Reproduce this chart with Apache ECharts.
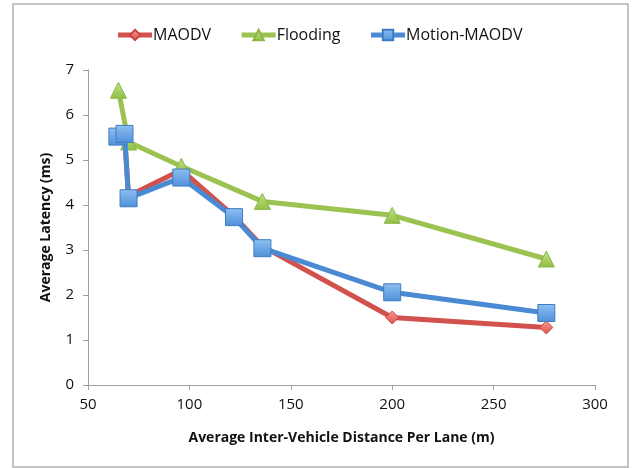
<!DOCTYPE html>
<html>
<head>
<meta charset="utf-8">
<script src="https://cdn.jsdelivr.net/npm/echarts@6/dist/echarts.min.js"></script>
<style>
html,body{margin:0;padding:0;background:#fff;}
#chart{width:638px;height:468px;}
</style>
</head>
<body>
<div id="chart"></div>
<script>
const seriesNames = ['MAODV', 'Flooding', 'Motion-MAODV'];
const maodvX = [65, 68, 70, 96, 122, 136, 200, 276];
const maodvY = [5.5, 5.57, 4.2, 4.78, 3.75, 3.08, 1.5, 1.28];
const floodingX = [65, 70, 96, 136, 200, 276];
const floodingY = [6.55, 5.4, 4.86, 4.08, 3.77, 2.8];
const motionX = [64.5, 68, 70, 96, 122, 136, 200, 276];
const motionY = [5.52, 5.58, 4.15, 4.61, 3.73, 3.04, 2.06, 1.6];
const xTicks = [50, 100, 150, 200, 250, 300];
const yTicks = [0, 1, 2, 3, 4, 5, 6, 7];

const pair = (xs, ys) => xs.map((x, i) => [x, ys[i]]);
const font = '"Open Sans", "Liberation Sans", sans-serif';

const chart = echarts.init(document.getElementById('chart'), null, {renderer: 'canvas'});
chart.setOption({
  animation: false,
  backgroundColor: '#ffffff',
  graphic: [{
    type: 'rect',
    shape: {x: 13, y: 4, width: 615, height: 463},
    style: {fill: 'none', stroke: '#b0b0b0', lineWidth: 1.5},
    silent: true, z: -1
  }],
  legend: {
    top: 22,
    left: 'center',
    itemWidth: 34,
    itemHeight: 13,
    itemGap: 28,
    lineStyle: {width: 5},
    textStyle: {fontFamily: font, fontSize: 16, color: '#111', padding: [0, 0, 0, -4]},
    data: seriesNames
  },
  grid: {left: 88, right: 43, top: 70, bottom: 83},
  xAxis: {
    type: 'value',
    min: xTicks[0],
    max: xTicks[xTicks.length - 1],
    interval: 50,
    name: 'Average Inter-Vehicle Distance Per Lane (m)',
    nameLocation: 'middle',
    nameGap: 46,
    nameTextStyle: {fontFamily: font, fontSize: 14, fontWeight: 'bold', color: '#111'},
    axisLine: {lineStyle: {color: '#a0a0a0', width: 1}},
    axisTick: {show: true, inside: false, length: 5, lineStyle: {color: '#a0a0a0'}},
    axisLabel: {fontFamily: font, fontSize: 15, color: '#111', margin: 12},
    splitLine: {show: false}
  },
  yAxis: {
    type: 'value',
    min: yTicks[0],
    max: yTicks[yTicks.length - 1],
    interval: 1,
    name: 'Average Latency (ms)',
    nameLocation: 'middle',
    nameGap: 35,
    nameRotate: 90,
    nameTextStyle: {fontFamily: font, fontSize: 14, fontWeight: 'bold', color: '#111'},
    axisLine: {show: true, lineStyle: {color: '#a0a0a0', width: 1}},
    axisTick: {show: true, inside: false, length: 5, lineStyle: {color: '#a0a0a0'}},
    axisLabel: {fontFamily: font, fontSize: 15, color: '#111', margin: 14},
    splitLine: {show: false}
  },
  series: [
    {
      name: seriesNames[0],
      type: 'line',
      data: pair(maodvX, maodvY),
      symbol: 'diamond',
      symbolSize: 13,
      lineStyle: {color: '#d2514d', width: 5},
      itemStyle: {
        color: new echarts.graphic.LinearGradient(0, 0, 0, 1, [
          {offset: 0, color: '#f59a93'}, {offset: 1, color: '#e0524c'}
        ]),
        borderColor: '#c9463f', borderWidth: 1
      },
      z: 2
    },
    {
      name: seriesNames[1],
      type: 'line',
      data: pair(floodingX, floodingY),
      symbol: 'triangle',
      symbolSize: 16,
      lineStyle: {color: '#9cc352', width: 5},
      itemStyle: {
        color: new echarts.graphic.LinearGradient(0, 0, 0, 1, [
          {offset: 0, color: '#c3e38a'}, {offset: 1, color: '#8fbf42'}
        ]),
        borderColor: '#8cb64a', borderWidth: 1
      },
      z: 3
    },
    {
      name: seriesNames[2],
      type: 'line',
      data: pair(motionX, motionY),
      symbol: 'rect',
      symbolSize: 17,
      lineStyle: {color: '#4a8ad3', width: 5},
      itemStyle: {
        color: new echarts.graphic.LinearGradient(0, 0, 0, 1, [
          {offset: 0, color: '#8fc0f2'}, {offset: 1, color: '#4f8fd9'}
        ]),
        borderColor: '#3f7cc4', borderWidth: 1
      },
      z: 4
    }
  ]
});
</script>
</body>
</html>
